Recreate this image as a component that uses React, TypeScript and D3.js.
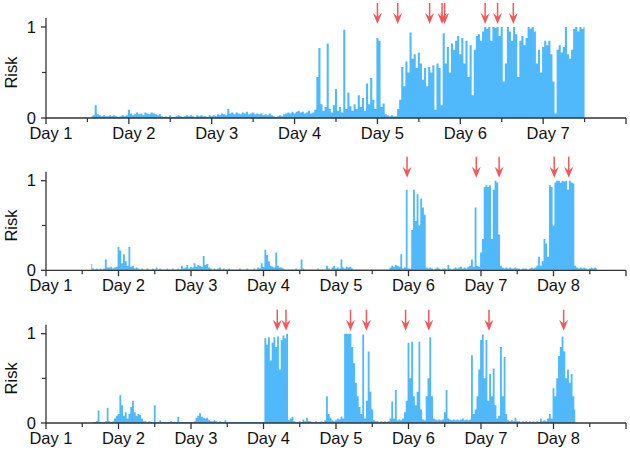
import React from "react";
import * as d3 from "d3";

// samples are 0.025 day apart
const STEP = 0.025;

// top panel, first sample at day 1.55
const startA = 1.55;
const riskA = [
  0.02, 0.03, 0.14, 0.04, 0.03, 0.02, 0.03, 0.02, 0.02, 0.03,
  0.02, 0.03, 0.02, 0.01, 0.02, 0.03, 0.02, 0.03, 0.09, 0.05,
  0.03, 0.04, 0.06, 0.04, 0.05, 0.03, 0.06, 0.05, 0.04, 0.06,
  0.05, 0.04, 0.03, 0.04, 0.02, 0.01, 0.02, 0.01, 0.03, 0.01,
  0.01, 0.02, 0.03, 0.02, 0.01, 0.02, 0.03, 0.02, 0.03, 0.02,
  0.01, 0.03, 0.02, 0.03, 0.02, 0.02, 0.01, 0.03, 0.02, 0.03,
  0.02, 0.04, 0.03, 0.05, 0.04, 0.03, 0.10, 0.05, 0.06, 0.04,
  0.06, 0.05, 0.04, 0.06, 0.05, 0.07, 0.04, 0.05, 0.06, 0.04,
  0.05, 0.04, 0.05, 0.03, 0.04, 0.03, 0.05, 0.03, 0.02, 0.01,
  0.02, 0.03, 0.02, 0.04, 0.05, 0.06, 0.05, 0.07, 0.05, 0.07,
  0.08, 0.06, 0.07, 0.05, 0.06, 0.08, 0.05, 0.06, 0.09, 0.45,
  0.77, 0.15, 0.08, 0.12, 0.82, 0.10, 0.06, 0.14, 0.32, 0.08,
  0.12, 0.06, 0.97, 0.10, 0.28, 0.13, 0.08, 0.15, 0.10, 0.25,
  0.12, 0.22, 0.08, 0.38, 0.15, 0.44, 0.20, 0.10, 0.88, 0.85,
  0.12, 0.16, 0.04, 0.03, 0.02, 0.03, 0.02, 0.02, 0.10, 0.20,
  0.56, 0.35, 0.62, 0.50, 0.94, 0.65, 0.70, 0.55, 0.72, 0.60,
  0.42, 0.55, 0.35, 0.56, 0.50, 0.58, 0.09, 0.60, 0.55, 0.14,
  0.93, 0.60, 0.78, 0.50, 0.82, 0.75, 0.85, 0.90, 0.70, 0.88,
  0.60, 0.85, 0.45, 0.80, 0.25, 0.75, 0.90, 0.92, 0.85, 0.95,
  1.00, 0.98, 1.00, 0.85, 1.00, 0.99, 1.00, 0.90, 1.00, 0.40,
  0.60, 1.00, 0.95, 0.85, 1.00, 0.92, 0.45, 0.85, 0.90, 0.80,
  0.88, 1.00, 0.98, 1.00, 0.95, 0.60, 0.75, 0.50, 0.78, 0.85,
  0.80, 0.85, 0.70, 0.40, 0.05, 0.75, 0.80, 0.72, 0.78, 1.00,
  0.70, 0.65, 0.75, 0.98, 1.00, 0.95, 1.00, 0.98, 1.00,
];
const arrowsA = [5.0, 5.245, 5.63, 5.78, 5.81, 6.3, 6.45, 6.64];

// middle panel, first sample at day 1.625
const startB = 1.625;
const riskB = [
  0.07, 0.02, 0.01, 0.02, 0.01, 0.02, 0.01, 0.02, 0.12, 0.03,
  0.03, 0.04, 0.02, 0.03, 0.04, 0.26, 0.22, 0.08, 0.18, 0.10,
  0.05, 0.26, 0.04, 0.05, 0.02, 0.03, 0.02, 0.01, 0.02, 0.01,
  0.01, 0.02, 0.01, 0.01, 0.02, 0.01, 0.03, 0.01, 0.02, 0.01,
  0.01, 0.01, 0.02, 0.01, 0.01, 0.02, 0.01, 0.01, 0.02, 0.01,
  0.05, 0.02, 0.03, 0.06, 0.02, 0.04, 0.03, 0.08, 0.04, 0.06,
  0.05, 0.04, 0.16, 0.06, 0.07, 0.03, 0.02, 0.01, 0.02, 0.01,
  0.02, 0.03, 0.01, 0.02, 0.01, 0.01, 0.02, 0.01, 0.01, 0.01,
  0.01, 0.01, 0.02, 0.01, 0.01, 0.01, 0.02, 0.01, 0.01, 0.01,
  0.02, 0.01, 0.03, 0.02, 0.08, 0.04, 0.23, 0.17, 0.10, 0.05,
  0.04, 0.03, 0.20, 0.05, 0.03, 0.03, 0.02, 0.01, 0.01, 0.01,
  0.01, 0.01, 0.01, 0.02, 0.01, 0.01, 0.12, 0.02, 0.01, 0.01,
  0.01, 0.01, 0.01, 0.01, 0.01, 0.02, 0.01, 0.01, 0.01, 0.01,
  0.05, 0.02, 0.01, 0.03, 0.05, 0.02, 0.03, 0.02, 0.12, 0.03,
  0.02, 0.04, 0.03, 0.04, 0.02, 0.01, 0.01, 0.01, 0.01, 0.01,
  0.01, 0.01, 0.01, 0.01, 0.01, 0.01, 0.01, 0.01, 0.01, 0.01,
  0.01, 0.01, 0.01, 0.01, 0.01, 0.03, 0.05, 0.04, 0.06, 0.05,
  0.04, 0.18, 0.02, 0.03, 0.90, 0.02, 0.02, 0.45, 0.90, 0.55,
  0.85, 0.50, 0.80, 0.70, 0.62, 0.03, 0.02, 0.03, 0.02, 0.01,
  0.02, 0.03, 0.02, 0.01, 0.02, 0.02, 0.01, 0.06, 0.02, 0.01,
  0.02, 0.03, 0.02, 0.03, 0.04, 0.02, 0.03, 0.02, 0.04, 0.05,
  0.12, 0.04, 0.70, 0.05, 0.04, 0.20, 0.35, 0.93, 0.95, 0.93,
  0.95, 0.35, 0.90, 1.00, 0.98, 0.40, 0.05, 0.03, 0.02, 0.03,
  0.02, 0.03, 0.02, 0.02, 0.03, 0.02, 0.02, 0.01, 0.02, 0.02,
  0.02, 0.01, 0.02, 0.03, 0.02, 0.03, 0.05, 0.15, 0.05, 0.10,
  0.35, 0.30, 0.15, 0.95, 0.93, 0.50, 0.98, 1.00, 1.00, 0.98,
  1.00, 0.99, 1.00, 0.90, 1.00, 0.98, 0.97, 0.05, 0.03, 0.02,
  0.03, 0.02, 0.03, 0.02, 0.01, 0.02, 0.03, 0.02, 0.03, 0.02,
];
const arrowsB = [5.98, 6.935, 7.25, 8.01, 8.21];

// bottom panel, first sample at day 1.65
const startC = 1.65;
const riskC = [
  0.01, 0.01, 0.02, 0.14, 0.01, 0.01, 0.01, 0.02, 0.17, 0.02,
  0.01, 0.02, 0.05, 0.08, 0.10, 0.31, 0.20, 0.08, 0.12, 0.05,
  0.10, 0.18, 0.25, 0.12, 0.08, 0.10, 0.09, 0.05, 0.02, 0.02,
  0.01, 0.02, 0.01, 0.01, 0.20, 0.01, 0.01, 0.03, 0.01, 0.01,
  0.01, 0.01, 0.01, 0.02, 0.01, 0.01, 0.01, 0.07, 0.01, 0.01,
  0.01, 0.01, 0.01, 0.01, 0.01, 0.01, 0.02, 0.06, 0.08, 0.11,
  0.07, 0.06, 0.05, 0.06, 0.03, 0.02, 0.02, 0.03, 0.02, 0.01,
  0.02, 0.01, 0.01, 0.03, 0.01, 0.01, 0.01, 0.01, 0.01, 0.01,
  0.01, 0.01, 0.01, 0.01, 0.01, 0.01, 0.01, 0.01, 0.01, 0.01,
  0.01, 0.01, 0.01, 0.01, 0.01, 0.95, 0.88, 0.96, 0.70, 0.90,
  0.96, 0.85, 0.97, 0.60, 0.93, 0.98, 0.95, 1.00, 0.03, 0.05,
  0.07, 0.02, 0.01, 0.01, 0.02, 0.01, 0.04, 0.02, 0.06, 0.02,
  0.02, 0.01, 0.01, 0.02, 0.01, 0.01, 0.02, 0.01, 0.03, 0.30,
  0.10, 0.06, 0.03, 0.02, 0.03, 0.05, 0.04, 0.07, 0.05, 1.00,
  1.00, 1.00, 1.00, 0.85, 0.67, 0.45, 0.30, 0.18, 0.10, 0.99,
  0.05, 0.25, 0.80, 0.35, 0.15, 0.03, 0.02, 0.02, 0.01, 0.02,
  0.01, 0.02, 0.01, 0.02, 0.05, 0.24, 0.05, 0.37, 0.03, 0.04,
  0.03, 0.05, 0.12, 0.25, 0.90, 0.50, 0.91, 0.30, 0.20, 0.35,
  0.91, 0.15, 0.04, 0.03, 0.30, 0.50, 0.96, 0.30, 0.05, 0.04,
  0.03, 0.04, 0.03, 0.04, 0.12, 0.37, 0.05, 0.04, 0.03, 0.04,
  0.03, 0.04, 0.03, 0.04, 0.05, 0.03, 0.04, 0.03, 0.04, 0.76,
  0.10, 0.15, 0.30, 0.60, 0.93, 0.99, 0.50, 0.93, 0.25, 0.55,
  0.30, 0.61, 0.20, 0.05, 0.08, 0.85, 0.30, 0.74, 0.10, 0.03,
  0.02, 0.03, 0.02, 0.06, 0.02, 0.02, 0.01, 0.02, 0.01, 0.02,
  0.01, 0.02, 0.01, 0.02, 0.01, 0.02, 0.01, 0.05, 0.02, 0.03,
  0.02, 0.05, 0.10, 0.05, 0.39, 0.30, 0.50, 0.75, 0.85, 0.97,
  0.80, 0.50, 0.60, 0.45, 0.55, 0.30, 0.15,
];
const arrowsC = [4.19, 4.31, 5.2, 5.42, 5.96, 6.28, 7.11, 8.14];

const riskTicks = [0, 1];

const FILL = "#4fb9fb";
const RED = "#f2575b";
const AXIS = "#333";
const FONT = "'Liberation Sans', Arial, Helvetica, sans-serif";

type PanelProps = {
  values: number[];
  start: number;
  arrows: number[];
  lastDay: number;
  lastLabel: number;
  zeroY: number;
  oneY: number;
};

function Panel({ values, start, arrows, lastDay, lastLabel, zeroY, oneY }: PanelProps) {
  const x = d3.scaleLinear().domain([1, lastDay]).range([46, 626]);
  const y = d3.scaleLinear().domain([0, 1]).range([zeroY, oneY]);
  const pts: [number, number][] = values.map((v, i) => [start + i * STEP, v]);
  const area = d3
    .area<[number, number]>()
    .curve(d3.curveStep)
    .x((d) => x(d[0]))
    .y0(y(0))
    .y1((d) => y(d[1]));

  const majors = d3.range(1, lastDay + 1);
  const minors = d3.range(1.5, lastDay, 1);
  const top = y(1.1);
  const tipY = y(1) - 3;

  return (
    <g>
      <path d={area(pts) || ""} fill={FILL} />

      {/* y axis */}
      <line x1={46} x2={46} y1={y(0) + 0.5} y2={top} stroke={AXIS} strokeWidth={1.3} />
      <line x1={42} x2={46} y1={y(0.5)} y2={y(0.5)} stroke={AXIS} strokeWidth={1.2} />
      {riskTicks.map((t) => (
        <g key={t}>
          <line x1={41} x2={46} y1={y(t)} y2={y(t)} stroke={AXIS} strokeWidth={1.3} />
          <text x={36} y={y(t) + 5.5} textAnchor="end" fontSize={16.5} fill="#111">
            {t}
          </text>
        </g>
      ))}
      <text
        transform={`translate(17,${y(0.5)}) rotate(-90)`}
        textAnchor="middle"
        fontSize={16.5}
        fill="#111"
      >
        Risk
      </text>

      {/* x axis */}
      <line x1={46} x2={x(lastDay)} y1={y(0)} y2={y(0)} stroke={AXIS} strokeWidth={1.3} />
      {majors.map((d) => (
        <line key={"M" + d} x1={x(d)} x2={x(d)} y1={y(0)} y2={y(0) + 6} stroke={AXIS} strokeWidth={1.3} />
      ))}
      {minors.map((d) => (
        <line key={"m" + d} x1={x(d)} x2={x(d)} y1={y(0)} y2={y(0) + 4} stroke={AXIS} strokeWidth={1.2} />
      ))}
      {majors
        .filter((d) => d <= lastLabel)
        .map((d) => (
          <text key={"l" + d} x={x(d) + 5} y={y(0) + 21} textAnchor="middle" fontSize={16.5} fill="#111">
            {"Day " + d}
          </text>
        ))}

      {/* arrows */}
      {arrows.map((a, i) => {
        const ax = x(a);
        return (
          <g key={"a" + i}>
            <line x1={ax} x2={ax} y1={tipY - 21} y2={tipY - 6} stroke={RED} strokeWidth={1.5} />
            <path
              d={`M${ax},${tipY} L${ax - 4.5},${tipY - 11} L${ax},${tipY - 7} L${ax + 4.5},${tipY - 11} Z`}
              fill={RED}
            />
          </g>
        );
      })}
    </g>
  );
}

export default function App() {
  return (
    <svg
      width={630}
      height={455}
      style={{ position: "absolute", left: 0, top: 0, background: "#fff", fontFamily: FONT }}
    >
      <Panel values={riskA} start={startA} arrows={arrowsA} lastDay={8} lastLabel={7} zeroY={118} oneY={27} />
      <Panel values={riskB} start={startB} arrows={arrowsB} lastDay={9} lastLabel={8} zeroY={270.3} oneY={180.7} />
      <Panel values={riskC} start={startC} arrows={arrowsC} lastDay={9} lastLabel={8} zeroY={423} oneY={333.7} />
    </svg>
  );
}
